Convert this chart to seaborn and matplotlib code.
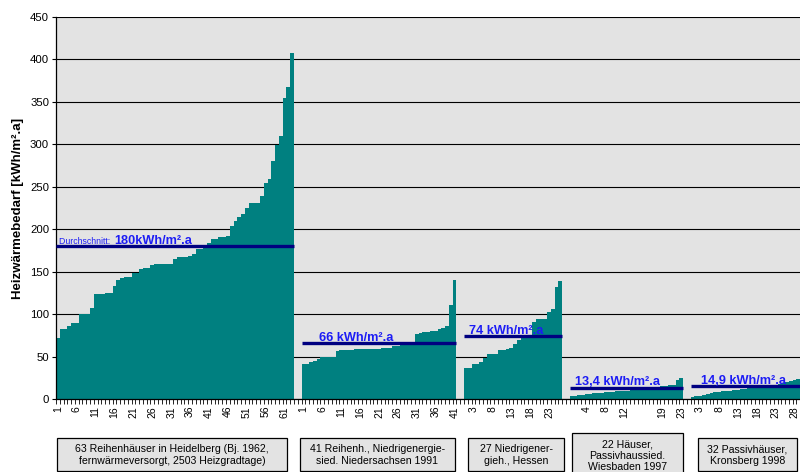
import numpy as np
import pandas as pd
import matplotlib
matplotlib.use("Agg")
import matplotlib.pyplot as plt
from matplotlib.patches import Rectangle
from matplotlib.ticker import FixedLocator, NullFormatter
import seaborn as sns

# Heizwärmebedarf je Haus [kWh/m².a], aufsteigend sortiert, je Siedlung
heidelberg = [72, 83, 83, 86, 89, 90, 100, 100, 100, 107, 124, 124, 124, 125, 125,
              133, 140, 143, 144, 144, 148, 148, 153, 154, 154, 158, 159, 159, 159, 159,
              159, 165, 167, 167, 167, 169, 171, 177, 177, 180, 184, 188, 188, 191, 191,
              192, 204, 210, 214, 218, 225, 231, 231, 231, 239, 254, 259, 280, 299, 310,
              355, 368, 408]
niedersachsen = [41, 41, 44, 45, 47, 49, 49, 49, 50, 56, 58, 58, 58, 58, 59, 59, 59, 59,
                 59, 59, 59, 60, 60, 60, 62, 63, 64, 64, 65, 65, 77, 78, 79, 79, 80, 80,
                 82, 84, 86, 111, 140]
hessen = [36, 37, 41, 41, 43, 48, 53, 53, 53, 58, 58, 59, 60, 65, 70, 72, 73, 74, 91, 94,
          94, 94, 103, 106, 132, 139]
wiesbaden = [3, 4, 5, 5, 6, 6, 7, 7, 7, 8, 8, 8, 9, 9, 10, 10, 11, 11, 12, 12, 13, 13, 14,
             14, 15, 15, 16, 17, 22, 25]
kronsberg = [2, 3, 4, 5, 6, 7, 8, 8, 9, 10, 10, 11, 11, 12, 12, 13, 13, 14, 14, 15, 16, 16,
             17, 18, 19, 20, 21, 22, 23, 24, 26, 30]

gruppen = [heidelberg, niedersachsen, hessen, wiesbaden, kronsberg]
mittelwerte = [180, 66, 74, 13.4, 14.9]
mittel_texte = ["180kWh/m².a", "66 kWh/m².a", "74 kWh/m².a", "13,4 kWh/m².a", "14,9 kWh/m².a"]
gruppen_texte = [
    "63 Reihenhäuser in Heidelberg (Bj. 1962,\nfernwärmeversorgt, 2503 Heizgradtage)",
    "41 Reihenh., Niedrigenergie-\nsied. Niedersachsen 1991",
    "27 Niedrigener-\ngieh., Hessen",
    "22 Häuser,\nPassivhaussied.\nWiesbaden 1997",
    "32 Passivhäuser,\nKronsberg 1998",
]
# Beschriftung jeder 5. Kategorie
xtick_labels = ["1", "6", "11", "16", "21", "26", "31", "36", "41", "46", "51", "56", "61",
                "1", "6", "11", "16", "21", "26", "31", "36", "41",
                "3", "8", "13", "18", "23", "",
                "4", "8", "12", "", "19", "23",
                "3", "8", "13", "18", "23", "28"]

TEAL = "#008080"
NAVY = "#000080"
BLAU = "#1c1cf5"

plt.rcParams["font.family"] = ["Liberation Sans", "DejaVu Sans"]

# Positionen: 2 leere Kategorien zwischen den Gruppen
starts = []
s = 0
for g in gruppen:
    starts.append(s)
    s += len(g) + 2
frames = [pd.DataFrame({"pos": np.arange(len(g)) + st, "wert": g}) for g, st in zip(gruppen, starts)]
df = pd.concat(frames, ignore_index=True)

W, H = 800, 472
fig = plt.figure(figsize=(W / 100, H / 100), dpi=100)
px_per_cat = 3.778
xmin, xmax = -0.5, 202.5
ax = fig.add_axes([56 / W, 1 - 399 / H, (xmax - xmin) * px_per_cat / W, (399 - 17) / H])
ax.set_facecolor("#e3e3e3")

sns.barplot(data=df, x="pos", y="wert", native_scale=True, width=1.0, color=TEAL,
            saturation=1, linewidth=0, edgecolor="none", errorbar=None, ax=ax, zorder=2)

# Durchschnittslinien
for g, st, m in zip(gruppen, starts, mittelwerte):
    ax.hlines(m, st - 0.5, st + len(g) - 0.5, color=NAVY, lw=2.4, zorder=3)

ax.text(0.3, 182.5, "Durchschnitt: ", color=BLAU, fontsize=6.3, va="baseline", ha="left",
        zorder=4)
text_x = [14.9, 69.1, 108.8, 136.9, 170.2]
for tx, m, t in zip(text_x, mittelwerte, mittel_texte):
    ax.text(tx, m + 2.8, t, color=BLAU, fontsize=9.2, fontweight="bold", va="baseline",
            ha="left", zorder=4)

ax.set_xlim(xmin, xmax)
ax.set_ylim(0, 450)
ax.set_yticks(np.arange(0, 451, 50))
ax.tick_params(axis="y", labelsize=8.2, length=3, width=0.8, pad=2, colors="black")
ax.yaxis.grid(True, color="black", lw=0.8, zorder=1)
ax.set_axisbelow(True)

ax.xaxis.set_major_locator(FixedLocator(np.arange(0, 200, 5)))
ax.set_xticklabels(xtick_labels, rotation=90, fontsize=7.5)
ax.xaxis.set_minor_locator(FixedLocator(np.arange(-0.5, 203, 1)))
ax.xaxis.set_minor_formatter(NullFormatter())
ax.tick_params(axis="x", which="major", length=0, pad=5)
ax.tick_params(axis="x", which="minor", length=3.5, width=0.6)
ax.set_xlabel("")
ax.set_ylabel("")

for side in ["top", "right"]:
    ax.spines[side].set_visible(False)
for side in ["left", "bottom"]:
    ax.spines[side].set_color("black")
    ax.spines[side].set_linewidth(0.9)

fig.text(18 / W, 1 - 208 / H, "Heizwärmebedarf [kWh/m².a]", rotation=90, ha="center",
         va="center", fontsize=9.5, fontweight="bold")

# Beschriftungskästen unter der Achse (Pixelkoordinaten)
kaesten = [(57, 438, 287, 471), (300, 438, 455, 471), (468, 438, 564, 471),
           (572, 433, 683, 490), (698, 438, 797, 471)]
text_y = [455, 455, 455, 456, 455]
for (x0, y0, x1, y1), t, ty in zip(kaesten, gruppen_texte, text_y):
    fig.patches.append(Rectangle((x0 / W, 1 - y1 / H), (x1 - x0) / W, (y1 - y0) / H,
                                 transform=fig.transFigure, facecolor="#e3e3e3",
                                 edgecolor="black", lw=0.9))
    fig.text((x0 + x1) / 2 / W, 1 - ty / H, t, ha="center", va="center", fontsize=7.6,
             linespacing=1.15)

fig.savefig("out.png", dpi=100)
